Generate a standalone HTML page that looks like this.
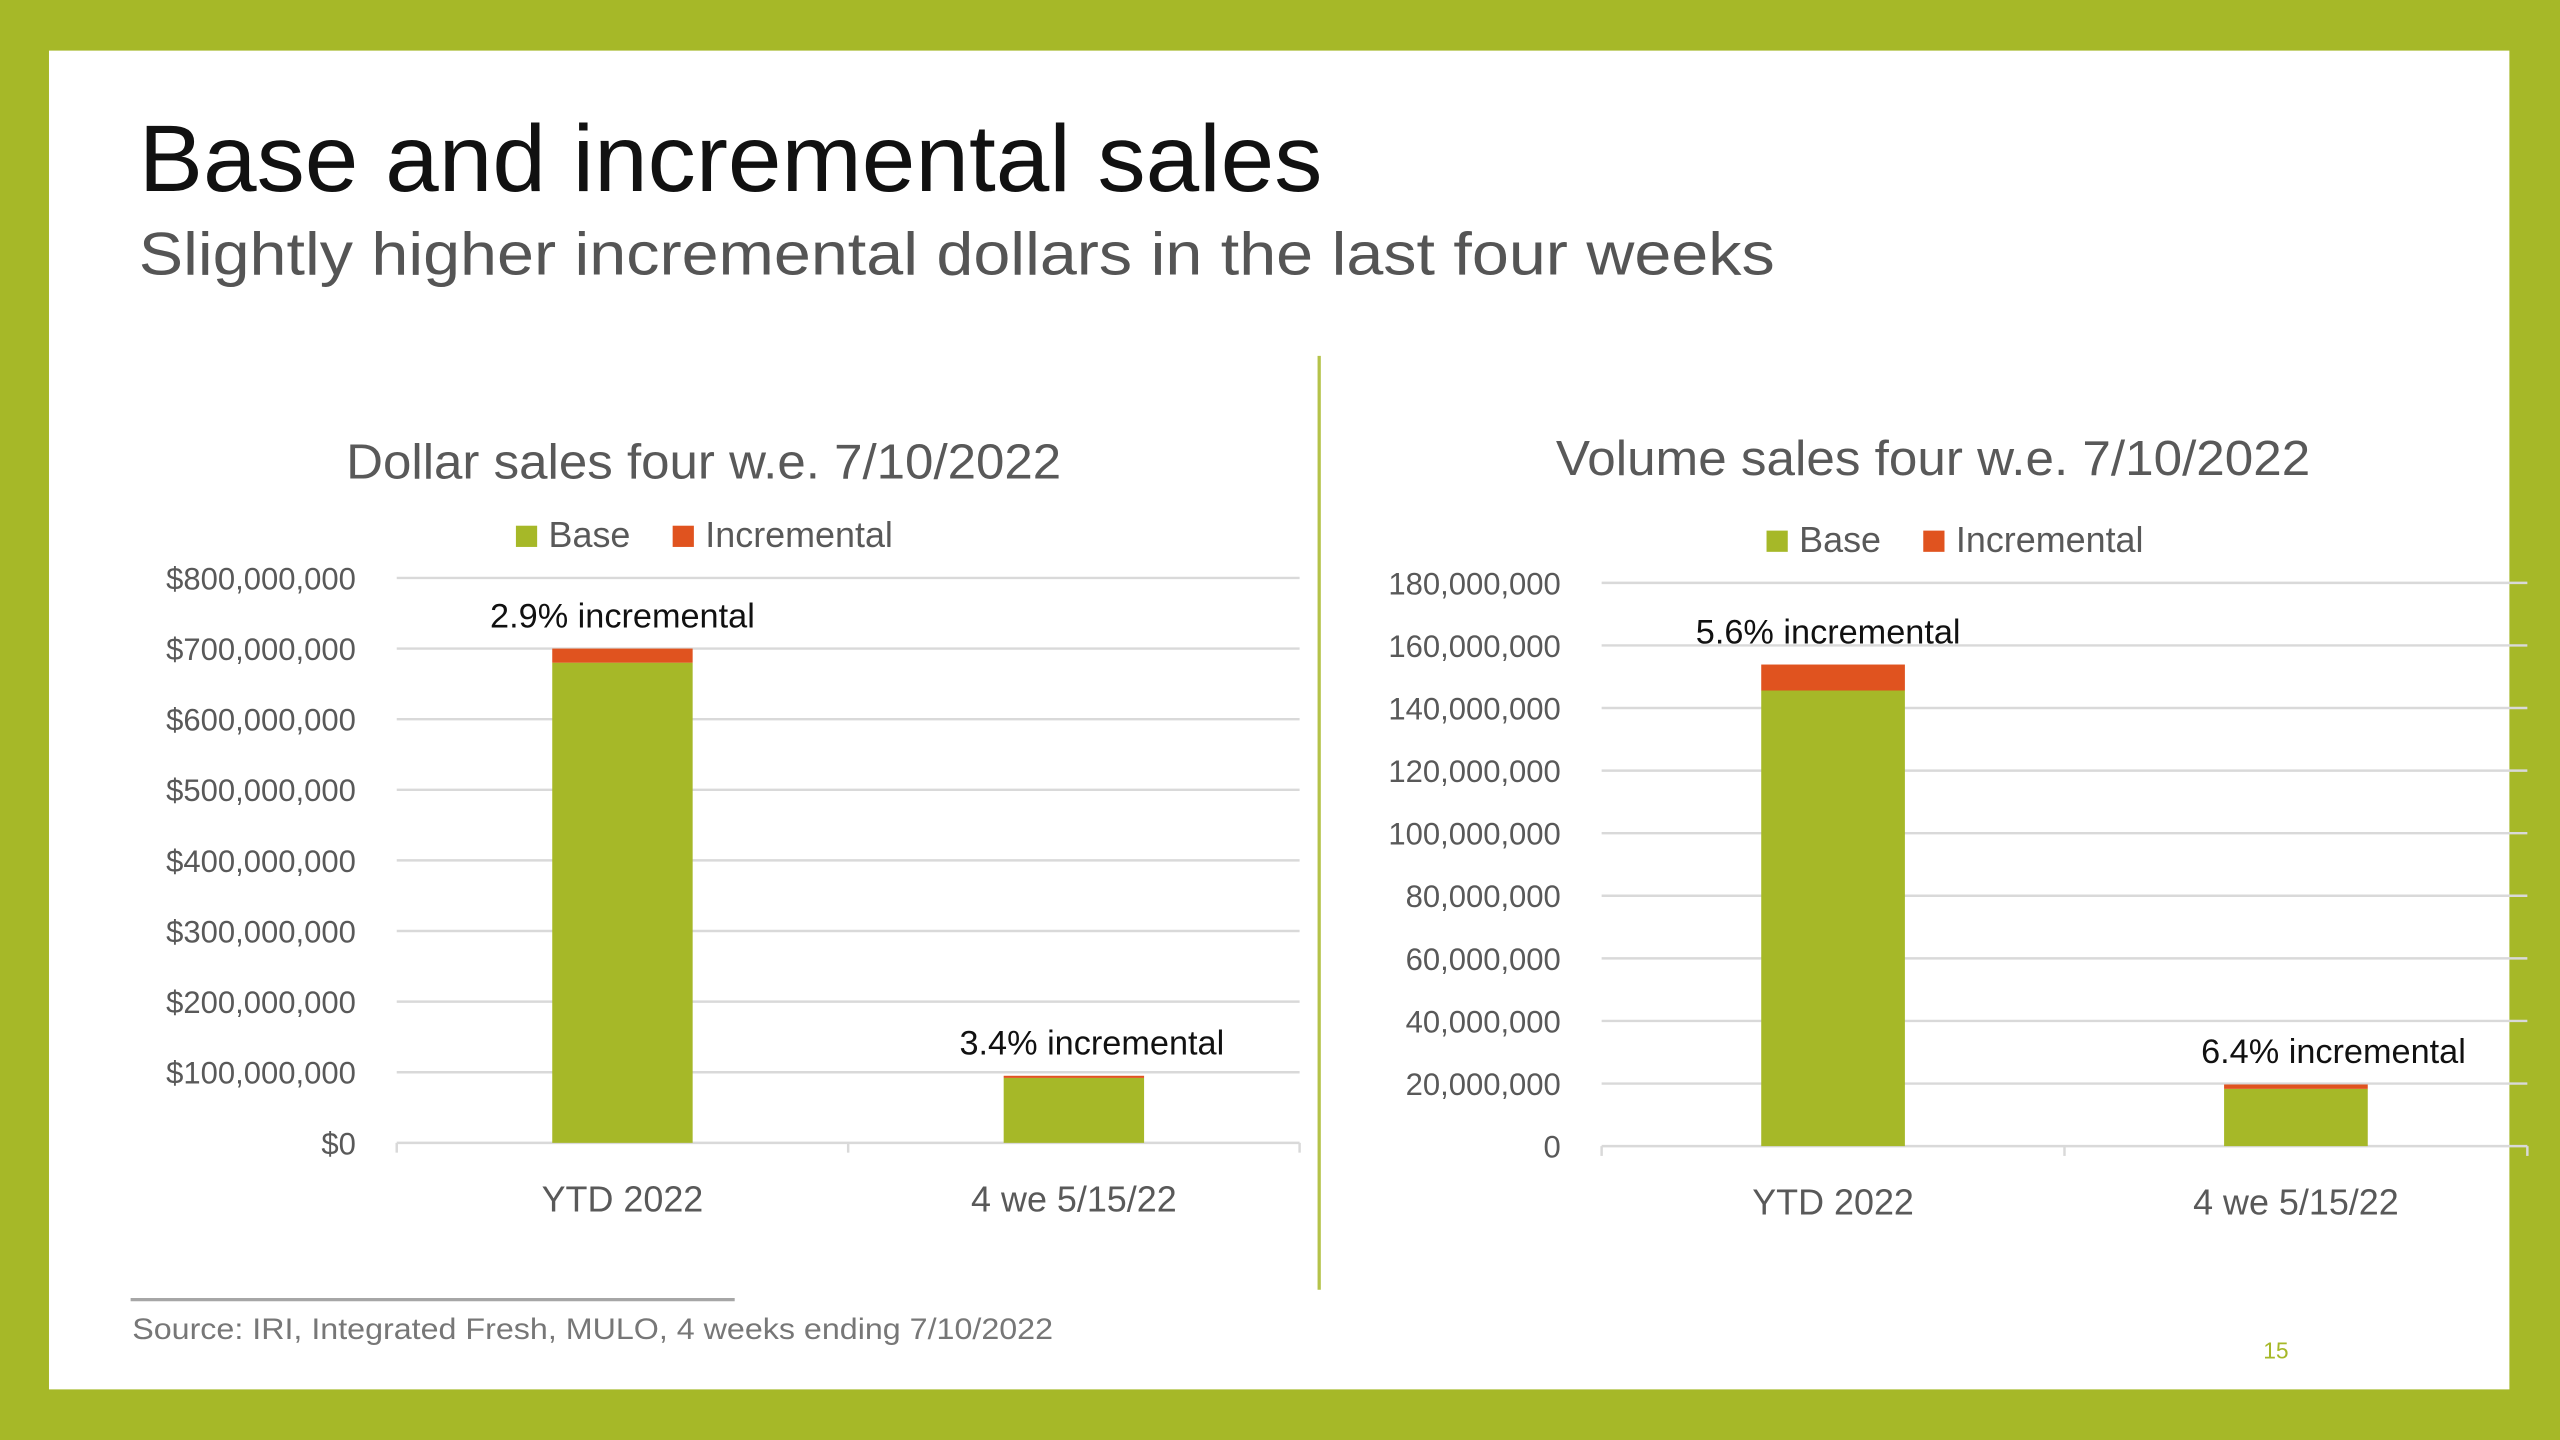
<!DOCTYPE html>
<html><head><meta charset="utf-8"><style>
html,body{margin:0;padding:0;background:#a6b828;}
svg{display:block;font-family:"Liberation Sans",sans-serif;}
</style></head><body>
<svg id="slide" width="2560" height="1440" viewBox="0 0 1568 882" xmlns="http://www.w3.org/2000/svg">
<rect x="0" y="0" width="1568" height="882" fill="#a6b828"/>
<rect x="30" y="31" width="1507" height="820" fill="#ffffff"/>
<text x="85" y="117" font-size="58" fill="#111" textLength="725" lengthAdjust="spacingAndGlyphs">Base and incremental sales</text>
<text x="85" y="168" font-size="37" fill="#555" textLength="1002" lengthAdjust="spacingAndGlyphs">Slightly higher incremental dollars in the last four weeks</text>
<line x1="808" y1="218" x2="808" y2="790" stroke="#b5c34a" stroke-width="2"/>
<line x1="80" y1="796" x2="450" y2="796" stroke="#a6a6a6" stroke-width="2"/>
<text x="81" y="820" font-size="18" fill="#777" textLength="564" lengthAdjust="spacingAndGlyphs">Source: IRI, Integrated Fresh, MULO, 4 weeks ending 7/10/2022</text>
<text x="1394" y="832" font-size="14" fill="#a6b828" text-anchor="middle">15</text>
<g id="charts"></g>
</svg>
<script>
// Dollar chart data
const dollarCategories = ["YTD 2022", "4 we 5/15/22"];
const dollarBase = [680000000, 92000000];
const dollarIncremental = [20000000, 3000000];
const dollarLabels = ["2.9% incremental", "3.4% incremental"];
const dollarTicks = [0,100000000,200000000,300000000,400000000,500000000,600000000,700000000,800000000];
const dollarTickLabels = ["$0","$100,000,000","$200,000,000","$300,000,000","$400,000,000","$500,000,000","$600,000,000","$700,000,000","$800,000,000"];
// Volume chart data
const volumeCategories = ["YTD 2022", "4 we 5/15/22"];
const volumeBase = [145600000, 18300000];
const volumeIncremental = [8300000, 1400000];
const volumeLabels = ["5.6% incremental", "6.4% incremental"];
const volumeTicks = [0,20000000,40000000,60000000,80000000,100000000,120000000,140000000,160000000,180000000];
const volumeTickLabels = ["0","20,000,000","40,000,000","60,000,000","80,000,000","100,000,000","120,000,000","140,000,000","160,000,000","180,000,000"];

const NS = "http://www.w3.org/2000/svg";
const root = document.getElementById('charts');
function mk(tag, attrs, parent, text){
  const e = document.createElementNS(NS, tag);
  for (const k in attrs) e.setAttribute(k, attrs[k]);
  if (text !== undefined) e.textContent = text;
  parent.appendChild(e);
  return e;
}
const GREEN = "#a6b828", ORANGE = "#e0531f";

function drawChart(cfg){
  const g = mk('g', {}, root);
  
  
  const t = mk('text', {x: cfg.titleX, y: cfg.titleY, 'font-size': 30, fill: '#595959', 'text-anchor': 'middle', textLength: cfg.titleLen, lengthAdjust: 'spacingAndGlyphs'}, g, cfg.title);
  
  
  // legend
  const lg = mk('g', {}, g);
  
  
  const r1 = mk('rect', {x: cfg.legX, y: cfg.legY - 13, width: 13, height: 13, fill: GREEN}, lg);
  
  
  const l1 = mk('text', {x: cfg.legX + 20, y: cfg.legY, 'font-size': 22, fill: '#595959'}, lg, 'Base');
  
  
  const r2 = mk('rect', {x: cfg.legX + 96, y: cfg.legY - 13, width: 13, height: 13, fill: ORANGE}, lg);
  
  
  const l2 = mk('text', {x: cfg.legX + 116, y: cfg.legY, 'font-size': 22, fill: '#595959'}, lg, 'Incremental');
  
  

  const maxV = cfg.ticks[cfg.ticks.length - 1];
  const y = v => cfg.y0 - (v / maxV) * (cfg.y0 - cfg.yTop);
  const bandW = (cfg.x1 - cfg.x0) / cfg.cats.length;
  const xc = i => cfg.x0 + bandW * (i + 0.5);

  cfg.ticks.forEach((v, i) => {
    if (i > 0) {
      const gl = mk('line', {x1: cfg.x0, x2: cfg.x1, y1: y(v), y2: y(v), stroke: '#d9d9d9', 'stroke-width': 1.5}, g);
      
      
    }
    const tl = mk('text', {x: cfg.labelX, y: y(v) + 7, 'font-size': 19, fill: '#595959', 'text-anchor': 'end'}, g, cfg.tickLabels[i]);
    
    
  });
  const ax = mk('line', {x1: cfg.x0, x2: cfg.x1, y1: cfg.y0, y2: cfg.y0, stroke: '#d9d9d9', 'stroke-width': 1.5}, g);
  
  
  for (let i = 0; i <= cfg.cats.length; i++) {
    const tx = cfg.x0 + bandW * i;
    const tk = mk('line', {x1: tx, x2: tx, y1: cfg.y0, y2: cfg.y0 + 6, stroke: '#d9d9d9', 'stroke-width': 1.5}, g);
    
    
  }
  cfg.cats.forEach((c, i) => {
    const cx = xc(i);
    const b = mk('rect', {x: cx - cfg.barW / 2, y: y(cfg.base[i]), width: cfg.barW, height: cfg.y0 - y(cfg.base[i]), fill: GREEN}, g);
    
    
    const tot = cfg.base[i] + cfg.inc[i];
    const r = mk('rect', {x: cx - cfg.barW / 2, y: y(tot), width: cfg.barW, height: y(cfg.base[i]) - y(tot), fill: ORANGE}, g);
    
    
    const dl = mk('text', {x: cx + cfg.labelOff[i], y: y(tot) - 13, 'font-size': 21, fill: '#111', 'text-anchor': 'middle'}, g, cfg.labels[i]);
    
    
    const cl = mk('text', {x: cx, y: cfg.y0 + 42, 'font-size': 22, fill: '#595959', 'text-anchor': 'middle'}, g, c);
    
    
  });
}

drawChart({name: 'dollar-sales-chart', title: 'Dollar sales four w.e. 7/10/2022', titleX: 431, titleY: 293, titleLen: 438,
  legX: 316, legY: 335, x0: 243, x1: 796, y0: 700, yTop: 354, labelX: 218, barW: 86,
  cats: dollarCategories, base: dollarBase, inc: dollarIncremental, labels: dollarLabels,
  ticks: dollarTicks, tickLabels: dollarTickLabels, labelOff: [0, 11]});
drawChart({name: 'volume-sales-chart', title: 'Volume sales four w.e. 7/10/2022', titleX: 1184, titleY: 291, titleLen: 462,
  legX: 1082, legY: 338, x0: 981, x1: 1548, y0: 702, yTop: 357, labelX: 956, barW: 88,
  cats: volumeCategories, base: volumeBase, inc: volumeIncremental, labels: volumeLabels,
  ticks: volumeTicks, tickLabels: volumeTickLabels, labelOff: [-3, 23]});
</script>
</body></html>
